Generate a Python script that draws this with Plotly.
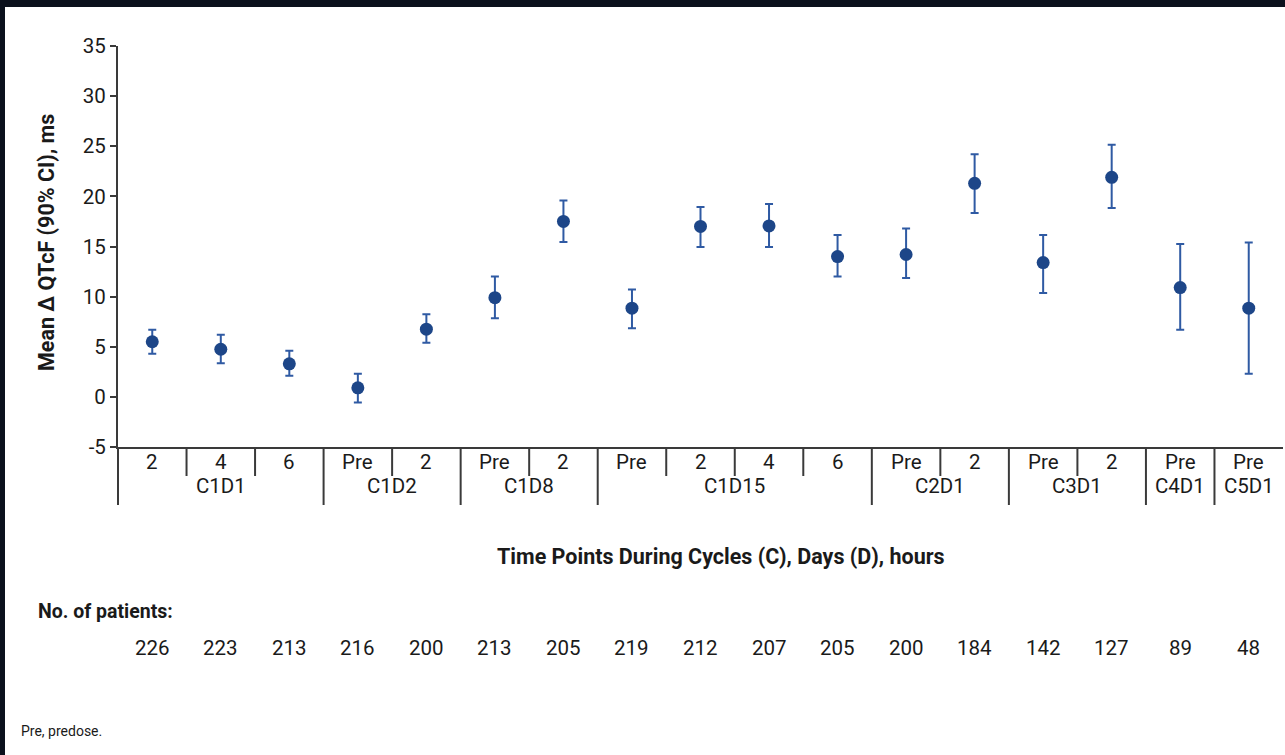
import plotly.graph_objects as go

# ---- data ----
sub_labels = ["2", "4", "6", "Pre", "2", "Pre", "2", "Pre", "2", "4", "6", "Pre", "2", "Pre", "2", "Pre", "Pre"]
groups = ["C1D1", "C1D1", "C1D1", "C1D2", "C1D2", "C1D8", "C1D8", "C1D15", "C1D15", "C1D15", "C1D15",
          "C2D1", "C2D1", "C3D1", "C3D1", "C4D1", "C5D1"]
mean_dqtcf = [5.5, 4.75, 3.3, 0.9, 6.75, 9.9, 17.5, 8.85, 17.0, 17.05, 14.0, 14.2, 21.3, 13.4, 21.9, 10.9, 8.85]
ci_upper = [6.7, 6.2, 4.6, 2.3, 8.25, 12.0, 19.6, 10.7, 18.95, 19.25, 16.15, 16.8, 24.2, 16.15, 25.15, 15.25, 15.4]
ci_lower = [4.3, 3.35, 2.1, -0.55, 5.4, 7.85, 15.45, 6.85, 14.95, 14.95, 12.0, 11.85, 18.35, 10.35, 18.85, 6.7, 2.3]
n_patients = [226, 223, 213, 216, 200, 213, 205, 219, 212, 207, 205, 200, 184, 142, 127, 89, 48]
y_ticks = [-5, 0, 5, 10, 15, 20, 25, 30, 35]

x = list(range(len(mean_dqtcf)))
err_plus = [u - m for u, m in zip(ci_upper, mean_dqtcf)]
err_minus = [m - l for m, l in zip(mean_dqtcf, ci_lower)]

FONT = "Roboto, Liberation Sans, Arial"
TXT = "#1a1a1a"
AX = "#3a3a3a"
FS = 20.5

fig = go.Figure()
fig.add_trace(go.Scatter(
    x=x, y=mean_dqtcf, mode="markers",
    marker=dict(color="#1d4688", size=13),
    error_y=dict(type="data", symmetric=False, array=err_plus, arrayminus=err_minus,
                 color="#2f5aa3", thickness=2, width=4),
    showlegend=False, hoverinfo="y",
))

# plot area geometry (px): x 118..1283, y 46..447
L, R, T, B = 118, 1283, 46, 447
W, H = 1285, 755
def py(p):  # pixel y -> paper y
    return (B - p) / (B - T)
def px(p):  # pixel x -> paper x
    return (p - L) / (R - L)

shapes = []
# white panel over dark backdrop
shapes.append(dict(type="rect", xref="paper", yref="paper", x0=px(5), x1=px(1290), y0=py(7), y1=py(760),
                   fillcolor="white", line=dict(width=0), layer="below"))
# y axis line extension below x axis
shapes.append(dict(type="line", xref="paper", yref="paper", x0=0, x1=0, y0=0, y1=py(505),
                   line=dict(color=AX, width=2)))
# dividers between categories
for i in range(1, len(x)):
    long = groups[i] != groups[i - 1]
    shapes.append(dict(type="line", xref="x", yref="paper", x0=i - 0.5, x1=i - 0.5,
                       y0=0, y1=py(505 if long else 476), line=dict(color=AX, width=2)))

annotations = []
for i, s in enumerate(sub_labels):
    annotations.append(dict(x=i, y=py(462), xref="x", yref="paper", text=s, showarrow=False,
                            font=dict(size=FS, color=TXT, family=FONT), yanchor="middle"))
# group labels centered over their span
seen = []
for g in groups:
    if g not in seen:
        seen.append(g)
for g in seen:
    idx = [i for i, gg in enumerate(groups) if gg == g]
    annotations.append(dict(x=(idx[0] + idx[-1]) / 2, y=py(486), xref="x", yref="paper", text=g,
                            showarrow=False, font=dict(size=FS, color=TXT, family=FONT), yanchor="middle"))
# patient counts
for i, n in enumerate(n_patients):
    annotations.append(dict(x=i, y=py(648), xref="x", yref="paper", text=str(n), showarrow=False,
                            font=dict(size=FS, color=TXT, family=FONT), yanchor="middle"))
annotations.append(dict(x=px(721), y=py(556), xref="paper", yref="paper",
                        text="<b>Time Points During Cycles (C), Days (D), hours</b>", showarrow=False,
                        font=dict(size=21.5, color=TXT, family=FONT), yanchor="middle"))
annotations.append(dict(x=px(36), y=py(611), xref="paper", yref="paper", text="<b>No. of patients:</b>",
                        showarrow=False, xanchor="left", yanchor="middle",
                        font=dict(size=19.5, color=TXT, family=FONT)))
annotations.append(dict(x=px(19), y=py(731), xref="paper", yref="paper", text="Pre, predose.",
                        showarrow=False, xanchor="left", yanchor="middle",
                        font=dict(size=14, color=TXT, family=FONT)))
annotations.append(dict(x=px(46), y=py(243), xref="paper", yref="paper",
                        text="<b>Mean \u0394 QTcF (90% CI), ms</b>", showarrow=False, textangle=-90,
                        xanchor="center", yanchor="middle", font=dict(size=21.5, color=TXT, family=FONT)))

fig.update_layout(
    width=W, height=H,
    margin=dict(l=L, r=W - R, t=T, b=H - B),
    paper_bgcolor="#0b111d", plot_bgcolor="white",
    shapes=shapes, annotations=annotations,
    xaxis=dict(range=[-0.5, len(x) - 0.5], showticklabels=False, ticks="", showgrid=False,
               zeroline=False, showline=True, linecolor=AX, linewidth=2, fixedrange=True),
    yaxis=dict(range=[-5, 35], tickvals=y_ticks, ticktext=[str(v) for v in y_ticks],
               ticks="outside", ticklen=6, tickwidth=1.5, tickcolor=AX,
               showgrid=False, zeroline=False, showline=True, linecolor=AX, linewidth=2,
               tickfont=dict(size=FS, color=TXT, family=FONT), fixedrange=True),
    font=dict(family=FONT, color=TXT),
)

fig.write_html("out.html", config={"displayModeBar": False},
               post_script="document.body.style.margin='0';document.body.style.background='#0b111d';")
